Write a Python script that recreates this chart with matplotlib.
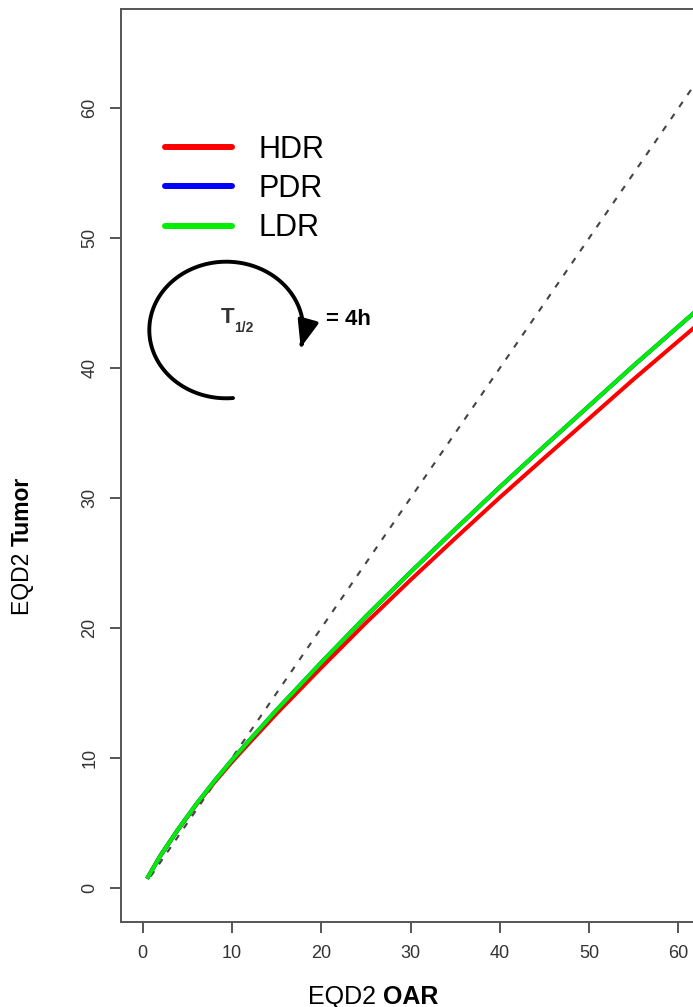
import numpy as np
import matplotlib
matplotlib.use("Agg")
import matplotlib.pyplot as plt
from matplotlib.patches import FancyArrowPatch
from matplotlib.path import Path

plt.rcParams['font.family'] = ['Liberation Sans', 'DejaVu Sans']

# EQD2 values
eqd2_oar = [0.6, 2, 4, 6, 8, 10, 12, 15, 20, 25, 30, 35, 40, 45, 50, 55, 60, 65, 68]
hdr_tumor = [0.85, 2.5, 4.53, 6.4, 8.1, 9.7, 11.2, 13.42, 16.95, 20.4, 23.7, 26.9,
             30.05, 33.1, 36.12, 39.15, 42.08, 45.0, 46.75]
pdr_tumor = [0.85, 2.5, 4.55, 6.45, 8.2, 9.85, 11.4, 13.7, 17.35, 20.9, 24.3, 27.6,
             30.85, 34.0, 37.1, 40.2, 43.2, 46.2, 48.0]
ldr_tumor = [0.85, 2.5, 4.55, 6.45, 8.2, 9.85, 11.4, 13.7, 17.35, 20.9, 24.3, 27.6,
             30.85, 34.0, 37.1, 40.2, 43.2, 46.2, 48.0]
identity = [0.9, 68]

W, H = 693, 1007
fig = plt.figure(figsize=(W / 100, H / 100), dpi=100)

# axes box in pixels (right side runs off the picture)
left_px, right_px, top_px, bottom_px = 120.7, 767.8, 9.3, 921.7
ax = fig.add_axes([left_px / W, 1 - bottom_px / H,
                   (right_px - left_px) / W, (bottom_px - top_px) / H])
ax.set_xlim(-2.46, 70)
ax.set_ylim(-2.59, 67.59)

dash, = ax.plot(identity, identity, color='#444444', lw=1.5)
dash.set_dashes((3, 4))
l1, = ax.plot(eqd2_oar, hdr_tumor, color='#ff0000', lw=2.9, label='HDR')
l2, = ax.plot(eqd2_oar, pdr_tumor, color='#0000ff', lw=2.9, label='PDR')
l3, = ax.plot(eqd2_oar, ldr_tumor, color='#00ee00', lw=2.9, label='LDR')

ax.set_xticks([0, 10, 20, 30, 40, 50, 60])
ax.set_yticks([0, 10, 20, 30, 40, 50, 60])
for s in ax.spines.values():
    s.set_color('#555555')
    s.set_linewidth(1.4)
ax.tick_params(axis='both', colors='#555555', length=8, width=1.4,
               labelsize=13, labelcolor='#333333')
ax.tick_params(axis='x', pad=9)
ax.tick_params(axis='y', pad=8)
plt.setp(ax.get_yticklabels(), rotation=90, va='center')

leg = ax.legend(handles=[l1, l2, l3], loc='upper left', frameon=False,
                bbox_to_anchor=(165 / W, 1 - 135 / H), bbox_transform=fig.transFigure,
                fontsize=22, handlelength=2.18, handletextpad=0.88,
                labelspacing=0.3, borderpad=0, borderaxespad=0)
for ln in leg.get_lines():
    ln.set_linewidth(4.3)
    ln.set_solid_capstyle('round')


def fx(px):
    return px / W


def fy(py):
    return 1 - py / H


# axis titles with a bold part
t1 = fig.text(fx(308), fy(1004), 'EQD2 ', fontsize=18, va='baseline')
ax.annotate('OAR', xy=(1, 0), xycoords=t1, va='bottom', fontsize=18,
            fontweight='bold')
t2 = fig.text(fx(34), fy(615), 'EQD2 ', fontsize=16.5, rotation=90,
              ha='right', va='bottom')
ax.annotate('Tumor', xy=(0, 1), xycoords=t2, ha='left', va='bottom',
            rotation=90, fontsize=16.5, fontweight='bold')

# half-life curved arrow
cx, cy, rx, ry = 226.3, 330, 77, 68.3
theta = np.radians(np.linspace(275, -15, 120))
verts = np.column_stack([(cx + rx * np.cos(theta)) / 100,
                         (H - (cy - ry * np.sin(theta))) / 100])
arrow = FancyArrowPatch(path=Path(verts),
                        arrowstyle='-|>,head_length=0.9,head_width=0.35',
                        mutation_scale=18, lw=2.8, color='black',
                        shrinkA=0, shrinkB=0, transform=fig.dpi_scale_trans)
fig.add_artist(arrow)

fig.text(fx(220.7), fy(323), 'T', fontsize=16, fontweight='bold',
         color='#333333', va='baseline')
fig.text(fx(234), fy(332), '1/2', fontsize=10, fontweight='bold',
         color='#333333', va='baseline')
fig.text(fx(326), fy(325), '= 4h', fontsize=16, fontweight='bold',
         color='black', va='baseline')

fig.savefig('out.png', dpi=100)
